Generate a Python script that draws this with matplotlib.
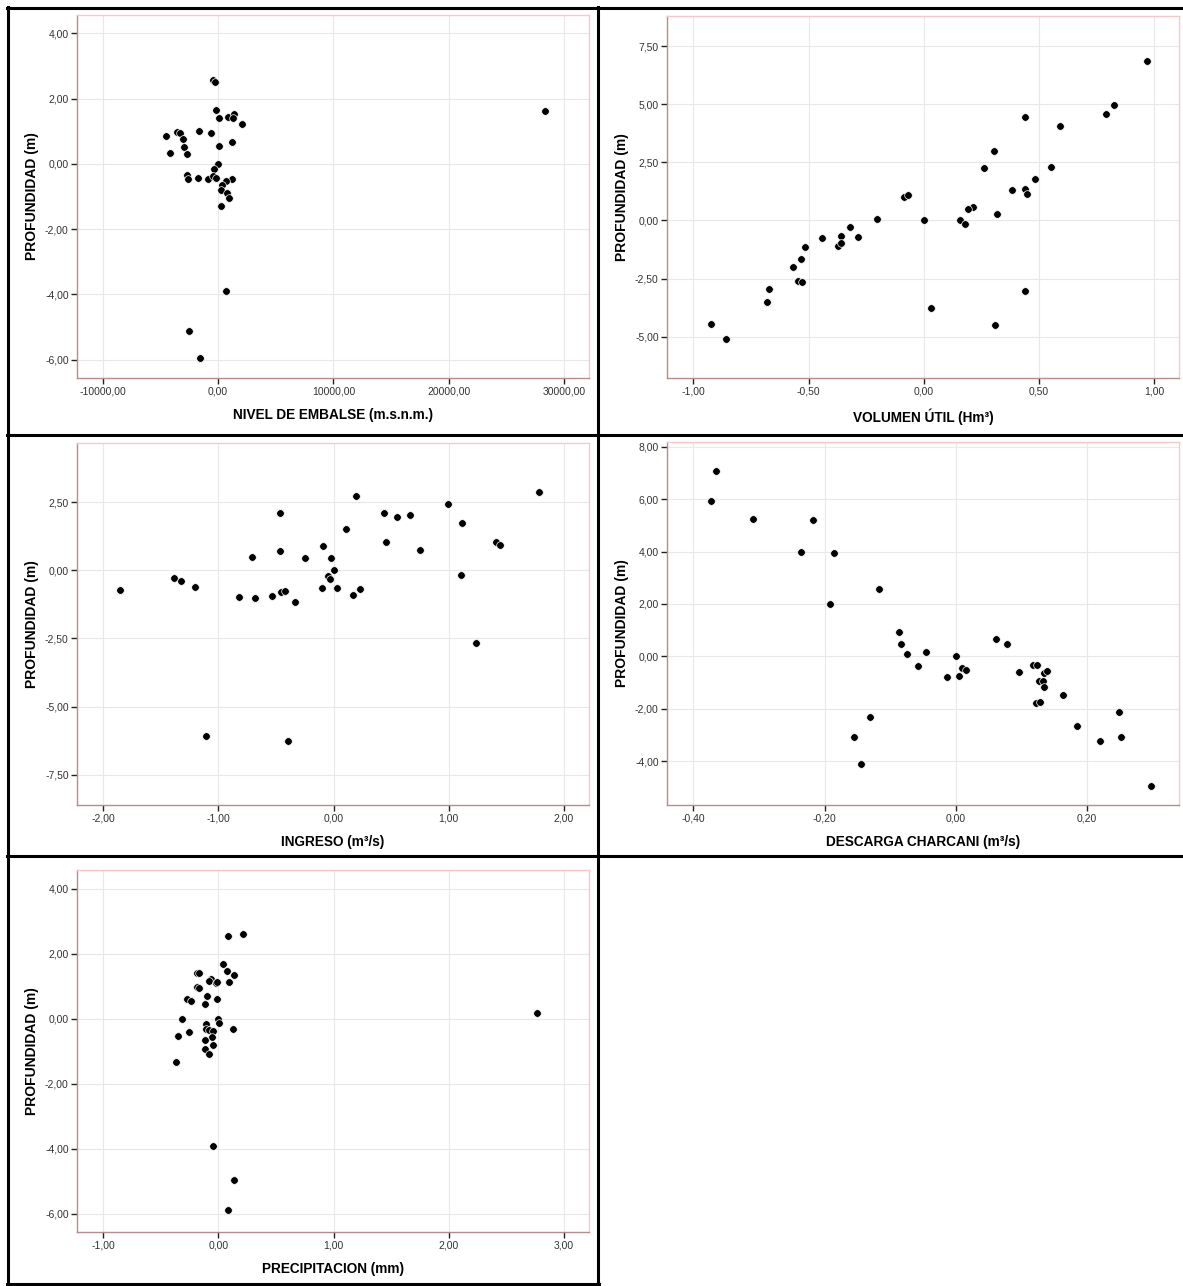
import matplotlib.pyplot as plt
from matplotlib.lines import Line2D
from matplotlib.ticker import FuncFormatter, MultipleLocator

plt.rcParams['font.family'] = ['Liberation Sans', 'DejaVu Sans']

W, H = 1183, 1286

# NIVEL DE EMBALSE vs PROFUNDIDAD
nivel_x = [-398, -265, -133, 66, 829, 1425, 1326, 2121, 28335, -1657, -597, -3579,
           -3314, -4540, -3016, 1226, -2950, 66, -4142, -2651, 0, -331, -2651, -2585,
           -1723, -862, -431, -133, 1193, 696, 365, 298, 762, 928, 232, 696, -2552, -1558]
nivel_y = [2.57, 2.50, 1.65, 1.41, 1.44, 1.53, 1.40, 1.21, 1.63, 1.02, 0.93, 0.98,
           0.95, 0.85, 0.75, 0.67, 0.51, 0.54, 0.34, 0.31, 0.00, -0.16, -0.34, -0.46,
           -0.44, -0.45, -0.38, -0.42, -0.46, -0.53, -0.65, -0.81, -0.89, -1.04, -1.30,
           -3.88, -5.11, -5.95]

# VOLUMEN UTIL vs PROFUNDIDAD
vol_x = [0.969, 0.827, 0.790, 0.437, 0.591, 0.306, 0.262, 0.552, 0.484, 0.383, 0.437,
         0.448, -0.086, -0.070, 0.215, 0.191, 0.319, -0.204, 0.0, 0.155, 0.180, -0.322,
         -0.362, -0.288, -0.442, -0.375, -0.359, -0.516, -0.532, -0.568, -0.547, -0.529,
         -0.673, -0.681, 0.440, 0.032, 0.309, -0.924, -0.859]
vol_y = [6.84, 4.98, 4.59, 4.45, 4.05, 3.00, 2.24, 2.28, 1.79, 1.29, 1.36, 1.13, 1.03,
         1.10, 0.59, 0.49, 0.30, 0.07, 0.00, 0.01, -0.14, -0.30, -0.67, -0.69, -0.75,
         -1.10, -0.98, -1.12, -1.65, -2.02, -2.58, -2.63, -2.94, -3.52, -3.03, -3.77,
         -4.50, -4.45, -5.08]

# INGRESO vs PROFUNDIDAD
ing_x = [1.779, 0.196, 0.989, -0.465, 0.441, 0.554, 0.667, 1.115, 0.110, 1.411, 1.447,
         0.455, -0.096, -0.465, 0.747, -0.707, -0.246, -0.023, 0.0, -0.046, -0.033, 1.102,
         -1.381, -1.324, -1.202, -1.852, -0.103, 0.027, 0.229, -0.458, -0.418, -0.823,
         -0.680, -0.534, 0.166, -0.339, 1.232, -1.105, -0.398]
ing_y = [2.88, 2.72, 2.45, 2.12, 2.10, 1.97, 2.02, 1.74, 1.52, 1.04, 0.94, 1.02, 0.88,
         0.69, 0.76, 0.49, 0.45, 0.45, 0.00, -0.22, -0.33, -0.18, -0.27, -0.40, -0.61,
         -0.72, -0.66, -0.64, -0.70, -0.80, -0.76, -0.97, -1.00, -0.93, -0.92, -1.15,
         -2.66, -6.07, -6.25]

# DESCARGA CHARCANI vs PROFUNDIDAD
desc_x = [-0.366, -0.373, -0.309, -0.218, -0.236, -0.185, -0.117, -0.191, -0.087,
          -0.084, -0.075, -0.045, -0.058, 0.0, -0.013, 0.005, 0.009, 0.016, 0.061, 0.078,
          0.097, 0.118, 0.124, 0.134, 0.139, 0.126, 0.133, 0.134, 0.122, 0.128, 0.164,
          0.185, 0.248, 0.220, 0.251, 0.297, -0.131, -0.155, -0.145]
desc_y = [7.08, 5.92, 5.25, 5.21, 4.00, 3.94, 2.57, 2.00, 0.92, 0.46, 0.11, 0.17, -0.37,
          0.00, -0.78, -0.73, -0.45, -0.52, 0.66, 0.46, -0.60, -0.33, -0.32, -0.65, -0.54,
          -0.93, -0.93, -1.17, -1.78, -1.75, -1.46, -2.65, -2.11, -3.21, -3.07, -4.94,
          -2.31, -3.07, -4.09]

# PRECIPITACION vs PROFUNDIDAD
prec_x = [0.080, 0.216, 0.043, 0.076, 0.139, 0.093, -0.189, -0.173, -0.063, -0.086,
          -0.023, -0.010, -0.186, -0.169, -0.100, -0.010, -0.269, -0.242, -0.116, -0.319,
          0.0, 0.003, -0.352, -0.256, -0.110, -0.110, -0.086, -0.046, 0.126, -0.053,
          -0.113, -0.043, -0.119, -0.086, -0.372, 2.768, -0.050, 0.136, 0.080]
prec_y = [2.54, 2.61, 1.67, 1.47, 1.35, 1.13, 1.40, 1.41, 1.22, 1.16, 1.11, 1.13, 0.98,
          0.93, 0.70, 0.59, 0.60, 0.54, 0.46, -0.01, 0.00, -0.13, -0.54, -0.40, -0.18,
          -0.31, -0.36, -0.39, -0.32, -0.56, -0.67, -0.82, -0.93, -1.09, -1.32, 0.16,
          -3.91, -4.96, -5.87]

panels = [
    # x, y, xlabel, box px (left, top, width, height), xlim, ylim, xstep, ystep
    (nivel_x, nivel_y, 'NIVEL DE EMBALSE (m.s.n.m.)', (77, 15, 512, 363),
     (-12220, 32150), (-6.56, 4.56), 10000, 2),
    (vol_x, vol_y, 'VOLUMEN ÚTIL (Hm³)', (667, 16, 512, 362),
     (-1.115, 1.107), (-6.77, 8.79), 0.5, 2.5),
    (ing_x, ing_y, 'INGRESO (m³/s)', (77, 443, 512, 362),
     (-2.227, 2.217), (-8.61, 4.67), 1, 2.5),
    (desc_x, desc_y, 'DESCARGA CHARCANI (m³/s)', (667, 442, 512, 363),
     (-0.440, 0.340), (-5.67, 8.18), 0.2, 2),
    (prec_x, prec_y, 'PRECIPITACION (mm)', (77, 870, 512, 362),
     (-1.228, 3.217), (-6.56, 4.57), 1, 2),
]

fmt = FuncFormatter(lambda v, pos: ('%.2f' % v).replace('.', ',').replace('-0,00', '0,00'))

fig = plt.figure(figsize=(W / 100, H / 100), dpi=100)

for xs, ys, xlabel, (l, t, w, h), xlim, ylim, xstep, ystep in panels:
    ax = fig.add_axes([l / W, 1 - (t + h) / H, w / W, h / H])
    ax.scatter(xs, ys, s=30, c='black', edgecolors='white', linewidths=0.5, zorder=3)
    ax.set_xlim(*xlim)
    ax.set_ylim(*ylim)
    ax.xaxis.set_major_locator(MultipleLocator(xstep))
    ax.yaxis.set_major_locator(MultipleLocator(ystep))
    ax.xaxis.set_major_formatter(fmt)
    ax.yaxis.set_major_formatter(fmt)
    ax.grid(True, color='#e8e8e8', linewidth=0.8, zorder=0)
    ax.set_axisbelow(True)
    for side in ['left', 'bottom']:
        ax.spines[side].set_color('#b98c8c')
        ax.spines[side].set_linewidth(1.0)
    for side in ['top', 'right']:
        ax.spines[side].set_color('#f6c8cc')
        ax.spines[side].set_linewidth(1.0)
    ax.tick_params(direction='out', length=4, width=1, color='#222222',
                   labelsize=7.5, labelcolor='#333333', pad=2)
    ax.set_xlabel(xlabel, fontsize=9.8, fontweight='bold')
    ax.set_ylabel('PROFUNDIDAD (m)', fontsize=10, fontweight='bold')
    ax.xaxis.set_label_coords(0.5, -30 / h)
    ax.yaxis.set_label_coords(-38 / w, 0.5)

# cell borders
def hline(y, x0, x1):
    fig.add_artist(Line2D([x0 / W, x1 / W], [1 - y / H, 1 - y / H], color='black',
                          linewidth=2.2, transform=fig.transFigure))

def vline(x, y0, y1):
    fig.add_artist(Line2D([x / W, x / W], [1 - y0 / H, 1 - y1 / H], color='black',
                          linewidth=2.2, transform=fig.transFigure))

hline(8, 7, 1183)
hline(435, 7, 1183)
hline(856, 7, 1183)
hline(1284, 7, 599)
vline(8, 7, 1285)
vline(598, 7, 1285)

fig.savefig('out.png', dpi=100)
